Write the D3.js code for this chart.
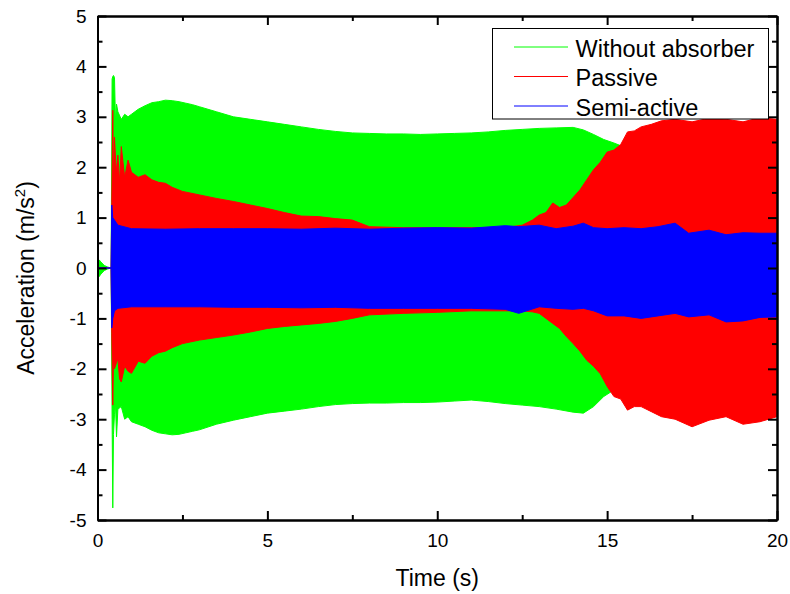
<!DOCTYPE html>
<html><head><meta charset="utf-8">
<script src="https://cdn.jsdelivr.net/npm/d3@7"></script>
<style>
html,body{margin:0;padding:0;background:#fff;}
text{font-family:"Liberation Sans",Arial,sans-serif;fill:#000;}
</style></head>
<body><svg id="chart" width="790" height="594"></svg>
<script>
// ---------- data (envelopes of the dense oscillation) ----------
const seriesNames = ["Without absorber", "Passive", "Semi-active"];
const seriesColors = ["#00ff00", "#ff0000", "#0000ff"];

const greenT  = [0,0.05,0.1,0.2,0.3,0.4,0.43,0.45,0.47,0.5,0.53,0.56,0.6,0.7,0.8,0.9,1.0,1.2,1.4,1.6,1.8,2.0,2.2,2.4,2.6,2.8,3.0,3.5,4.0,4.5,5.0,5.5,6.0,6.5,7.0,7.5,8.0,8.5,9.0,9.5,10,10.5,11,11.5,12,12.5,13,13.5,14,14.3,14.6,14.9,15.2,15.5,15.7,16,17,18,19,20];
const greenHi = [0,0.16,0.12,0.05,0.02,0,3.75,3.8,3.82,3.78,2.9,3.25,3.1,2.95,3.05,3.0,3.05,3.15,3.22,3.28,3.3,3.33,3.32,3.3,3.27,3.24,3.2,3.1,3.0,2.95,2.9,2.85,2.8,2.75,2.71,2.68,2.67,2.66,2.66,2.65,2.66,2.67,2.68,2.7,2.73,2.75,2.77,2.78,2.79,2.74,2.65,2.55,2.48,2.4,2.35,2.3,2.2,2.1,2.0,2.0];
const greenLo = [0,-0.17,-0.12,-0.05,-0.02,0,-3.0,-4.76,-3.3,-2.9,-2.7,-3.35,-2.8,-2.75,-3.0,-2.95,-3.05,-3.1,-3.15,-3.22,-3.27,-3.29,-3.31,-3.3,-3.27,-3.24,-3.21,-3.1,-3.02,-2.95,-2.88,-2.84,-2.8,-2.75,-2.71,-2.69,-2.68,-2.68,-2.67,-2.67,-2.66,-2.64,-2.62,-2.65,-2.69,-2.72,-2.75,-2.8,-2.86,-2.88,-2.75,-2.55,-2.42,-2.38,-2.3,-2.2,-2.1,-2.0,-2.0,-2.0];

const redT  = [0,0.4,0.42,0.45,0.47,0.5,0.55,0.6,0.65,0.7,0.8,0.9,1.0,1.2,1.4,1.6,1.8,2.0,2.2,2.5,3.0,3.5,4.0,4.5,5.0,5.5,6.0,6.5,7.0,7.5,8.0,9,10,11,12,12.5,12.8,13.0,13.2,13.4,13.6,13.8,14.0,14.2,14.4,14.6,14.8,15.0,15.2,15.4,15.6,15.8,16.0,16.3,16.6,17,17.5,18,18.5,19,19.5,20];
const redHi = [0,0,1.3,3.13,1.6,2.6,1.9,2.24,1.7,2.41,1.8,2.14,1.9,1.8,1.85,1.75,1.7,1.68,1.6,1.52,1.45,1.38,1.32,1.25,1.18,1.1,1.03,1.02,0.98,0.95,0.82,0.8,0.8,0.8,0.8,0.85,0.95,1.05,1.1,1.29,1.2,1.25,1.4,1.55,1.75,1.95,2.1,2.3,2.34,2.45,2.7,2.72,2.8,2.85,2.92,2.95,2.9,2.97,2.95,2.9,2.98,2.95];
const redLo = [0,0,-1.3,-2.72,-1.8,-2.0,-1.9,-1.8,-2.2,-2.26,-1.95,-2.05,-2.09,-1.85,-1.89,-1.75,-1.68,-1.65,-1.58,-1.5,-1.43,-1.38,-1.33,-1.27,-1.2,-1.16,-1.13,-1.1,-1.06,-1.0,-0.93,-0.9,-0.88,-0.85,-0.85,-0.85,-0.87,-0.9,-1.0,-1.1,-1.2,-1.36,-1.5,-1.65,-1.83,-1.95,-2.1,-2.35,-2.55,-2.6,-2.82,-2.75,-2.75,-2.85,-2.95,-3.0,-3.15,-3.02,-2.95,-3.1,-3.05,-2.95];

const blueT  = [0,0.4,0.42,0.45,0.5,0.6,1,2,3,4,5,6,7,8,9,10,11,12,12.4,13,13.5,14,14.3,14.6,15,15.5,16,16.5,17,17.4,18,18.5,19,19.5,20];
const blueHi = [0,0,1.25,1.0,0.95,0.85,0.78,0.77,0.78,0.78,0.78,0.77,0.79,0.77,0.79,0.8,0.79,0.84,0.82,0.85,0.78,0.83,0.89,0.8,0.78,0.8,0.78,0.82,0.89,0.69,0.75,0.66,0.7,0.69,0.69];
const blueLo = [0,0,-1.19,-1.0,-0.85,-0.8,-0.77,-0.77,-0.77,-0.78,-0.78,-0.79,-0.78,-0.8,-0.8,-0.8,-0.8,-0.82,-0.9,-0.77,-0.8,-0.82,-0.8,-0.85,-0.95,-0.95,-1.0,-0.95,-0.9,-0.97,-0.93,-1.07,-1.05,-0.98,-0.97];

const xTicks = [0,5,10,15,20];
const yTicks = [-5,-4,-3,-2,-1,0,1,2,3,4,5];
const xLabel = "Time (s)";
const yLabel = "Acceleration (m/s";

// ---------- drawing ----------
const svg = d3.select("#chart");
const L = 97.5, R = 777, T = 16, B = 520;
const x = d3.scaleLinear().domain([0,20]).range([L,R]);
const y = d3.scaleLinear().domain([-5,5]).range([B,T]);

const series = [
  {T: greenT, Hi: greenHi, Lo: greenLo},
  {T: redT, Hi: redHi, Lo: redLo},
  {T: blueT, Hi: blueHi, Lo: blueLo}
];

const area = d3.area().x(d => x(d.t)).y0(d => y(d.lo)).y1(d => y(d.hi));
const plot = svg.append("g");
series.forEach((s, i) => {
  const pts = s.T.map((t, k) => ({t, hi: s.Hi[k], lo: s.Lo[k]}));
  plot.append("path").datum(pts).attr("d", area)
    .attr("fill", seriesColors[i]).attr("stroke", seriesColors[i]).attr("stroke-width", 1);
});

// axes
const fmt = d => String(d);
function styleAxis(g){
  g.select(".domain").attr("stroke","#000").attr("stroke-width",2);
  g.selectAll(".tick line").attr("stroke","#000").attr("stroke-width",2);
  g.selectAll("text").attr("font-size",19).attr("font-family","Liberation Sans, Arial, sans-serif").attr("fill","#000");
}
const minorX = d3.range(0, 20.01, 2.5).filter(v => v % 5 !== 0);
const minorY = d3.range(-4.5, 5, 1);

svg.append("g").attr("transform",`translate(0,${B})`)
  .call(d3.axisBottom(x).tickValues(xTicks).tickFormat(fmt).tickSizeInner(-9).tickSizeOuter(0).tickPadding(14))
  .call(styleAxis);
svg.append("g").attr("transform",`translate(0,${B})`)
  .call(d3.axisBottom(x).tickValues(minorX).tickFormat("").tickSizeInner(-5).tickSizeOuter(0))
  .call(styleAxis);
svg.append("g").attr("transform",`translate(${L},0)`)
  .call(d3.axisLeft(y).tickValues(yTicks).tickFormat(fmt).tickSizeInner(-9).tickSizeOuter(0).tickPadding(11))
  .call(styleAxis);
svg.append("g").attr("transform",`translate(${L},0)`)
  .call(d3.axisLeft(y).tickValues(minorY).tickFormat("").tickSizeInner(-5).tickSizeOuter(0))
  .call(styleAxis);
svg.append("g").attr("transform",`translate(0,${T})`)
  .call(d3.axisTop(x).tickValues(xTicks).tickFormat("").tickSizeInner(-9).tickSizeOuter(0))
  .call(styleAxis);
svg.append("g").attr("transform",`translate(0,${T})`)
  .call(d3.axisTop(x).tickValues(minorX).tickFormat("").tickSizeInner(-5).tickSizeOuter(0))
  .call(styleAxis);
svg.append("g").attr("transform",`translate(${R},0)`)
  .call(d3.axisRight(y).tickValues(yTicks).tickFormat("").tickSizeInner(-9).tickSizeOuter(0))
  .call(styleAxis);
svg.append("g").attr("transform",`translate(${R},0)`)
  .call(d3.axisRight(y).tickValues(minorY).tickFormat("").tickSizeInner(-5).tickSizeOuter(0))
  .call(styleAxis);

// axis titles
svg.append("text").attr("x",(L+R)/2).attr("y",586).attr("text-anchor","middle")
  .attr("font-size",23).text(xLabel);
const yl = svg.append("text").attr("transform",`translate(34,278) rotate(-90)`)
  .attr("text-anchor","middle").attr("font-size",23);
yl.append("tspan").text(yLabel);
yl.append("tspan").attr("font-size",15).attr("dy",-9).text("2");
yl.append("tspan").attr("dy",9).text(")");

// legend
const lg = svg.append("g");
lg.append("rect").attr("x",492.5).attr("y",28.5).attr("width",276).attr("height",90.5)
  .attr("fill","#fff").attr("stroke","#000").attr("stroke-width",1);
seriesNames.forEach((n, i) => {
  const yy = 47 + i*29.5;
  lg.append("line").attr("x1",514).attr("x2",568).attr("y1",yy).attr("y2",yy)
    .attr("stroke",seriesColors[i]).attr("stroke-width",1);
  lg.append("text").attr("x",575.5).attr("y",yy+9.5).attr("font-size",23.5).text(n);
});
</script></body></html>
